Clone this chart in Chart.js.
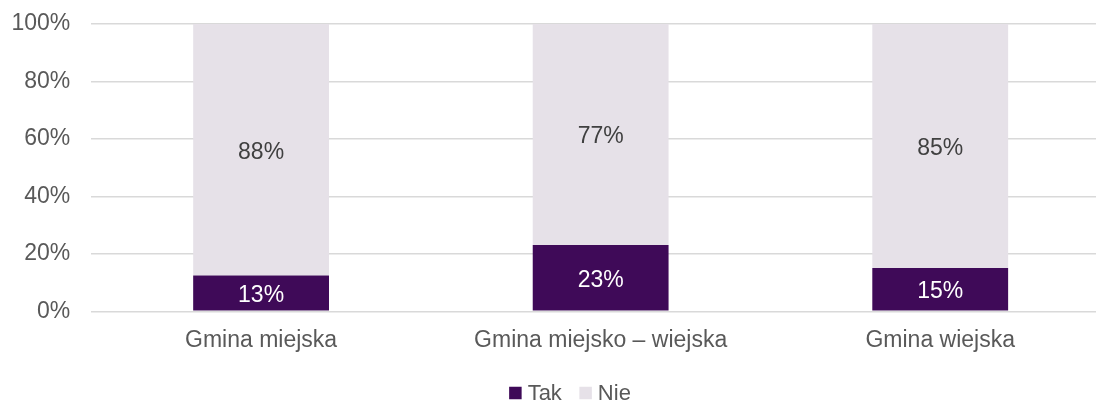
<!DOCTYPE html>
<html>
<head>
<meta charset="utf-8">
<script src="https://cdn.jsdelivr.net/npm/chart.js@4.4.1/dist/chart.umd.min.js"></script>
<style>
  html, body { margin: 0; padding: 0; background: #fff; overflow: hidden; }
  #wrap { position: absolute; left: 0; top: 0; width: 1140px; height: 401px; }
</style>
</head>
<body>
<div id="wrap"><canvas id="c"></canvas></div>
<script>
const categories = ["Gmina miejska", "Gmina miejsko \u2013 wiejska", "Gmina wiejska"];
const seriesNames = ["Tak", "Nie"];
const takValues = [12.5, 23.1, 15.1];
const nieValues = [87.5, 76.9, 84.9];
const yTicks = [0, 20, 40, 60, 80, 100];

const FONT = "'Liberation Sans', Arial, sans-serif";
const TAK_COLOR = "#3F0A58";
const NIE_COLOR = "#E6E1E8";

const labelPlugin = {
  id: 'barLabels',
  afterDatasetsDraw(chart) {
    const ctx = chart.ctx;
    ctx.save();
    ctx.font = "23px " + FONT;
    ctx.textAlign = "center";
    ctx.textBaseline = "middle";
    chart.data.datasets.forEach((ds, di) => {
      const meta = chart.getDatasetMeta(di);
      meta.data.forEach((el, i) => {
        const p = el.getProps(['x', 'y', 'base'], true);
        ctx.fillStyle = di === 0 ? "#FFFFFF" : "#404040";
        ctx.fillText(Math.round(ds.data[i]) + "%", p.x, (p.y + p.base) / 2 + 2.5);
      });
    });
    ctx.restore();
  }
};

const legendPlugin = {
  id: 'customLegend',
  afterDraw(chart) {
    const ctx = chart.ctx;
    ctx.save();
    ctx.font = "22px " + FONT;
    ctx.textBaseline = "middle";
    const box = 12.5, gap = 6, itemGap = 17.5;
    const colors = [TAK_COLOR, NIE_COLOR];
    const widths = seriesNames.map(n => box + gap + ctx.measureText(n).width);
    const total = widths.reduce((a, b) => a + b, 0) + itemGap * (seriesNames.length - 1);
    let x = chart.width / 2 - total / 2;
    const y = 393;
    seriesNames.forEach((n, i) => {
      ctx.fillStyle = colors[i];
      ctx.fillRect(x, y - box / 2, box, box);
      ctx.fillStyle = "#595959";
      ctx.fillText(n, x + box + gap, y + 1);
      x += widths[i] + itemGap;
    });
    ctx.restore();
  }
};

new Chart(document.getElementById('c'), {
  type: 'bar',
  data: {
    labels: categories,
    datasets: [
      { label: seriesNames[0], data: takValues, backgroundColor: TAK_COLOR,
        barPercentage: 0.4, categoryPercentage: 1.0 },
      { label: seriesNames[1], data: nieValues, backgroundColor: NIE_COLOR,
        barPercentage: 0.4, categoryPercentage: 1.0 }
    ]
  },
  options: {
    responsive: true,
    maintainAspectRatio: false,
    animation: false,
    layout: { autoPadding: false, padding: { left: 0, right: 30, top: 24, bottom: 0 } },
    plugins: { legend: { display: false }, tooltip: { enabled: false } },
    scales: {
      x: {
        stacked: true,
        grid: { display: false, drawTicks: false },
        border: { display: false },
        ticks: { color: "#595959", font: { family: FONT, size: 23 }, padding: 16, maxRotation: 0 },
        afterFit(scale) { scale.height = 89.7; scale.paddingLeft = 0; scale.paddingRight = 0; }
      },
      y: {
        stacked: true,
        min: 0, max: 100,
        afterBuildTicks(scale) { scale.ticks = yTicks.map(v => ({ value: v })); },
        grid: { color: "#D9D9D9", lineWidth: 1.5, drawTicks: false },
        border: { display: false },
        ticks: { color: "#595959", font: { family: FONT, size: 23 }, padding: 21,
                 callback: v => v + "%" },
        afterFit(scale) { scale.width = 91.3; scale.paddingTop = 0; scale.paddingBottom = 0; }
      }
    }
  },
  plugins: [labelPlugin, legendPlugin]
});
</script>
</body>
</html>
